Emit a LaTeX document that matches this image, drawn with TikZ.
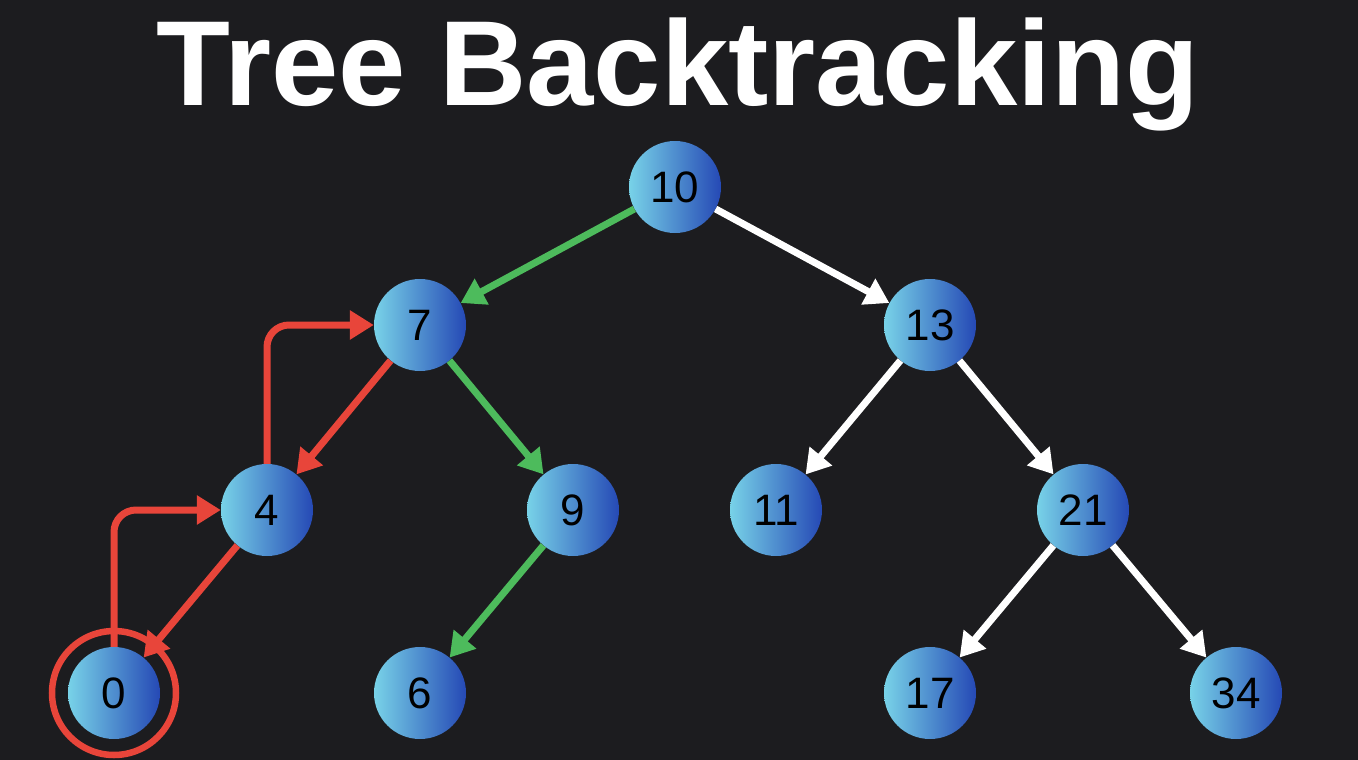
\documentclass[tikz,border=0pt]{standalone}
\usepackage{fontspec}
\setmainfont{Liberation Sans}
\usetikzlibrary{arrows.meta}
\definecolor{bg}{HTML}{1C1C1F}
\definecolor{nleft}{HTML}{78D2E8}
\definecolor{nright}{HTML}{2549B5}
\definecolor{egreen}{HTML}{4DBB5C}
\definecolor{ered}{HTML}{E8453A}
\tikzset{
  tnode/.style={circle, minimum size=92pt, inner sep=0pt, left color=nleft, right color=nright, font=\fontsize{44}{44}\selectfont, text=black},
  edge/.style={line width=7pt, -{Triangle[length=24pt,width=28pt]}},
  gedge/.style={edge, draw=egreen},
  wedge/.style={edge, draw=white},
  redge/.style={edge, draw=ered},
  backedge/.style={redge, rounded corners=22pt},
}
\begin{document}
\begin{tikzpicture}[x=1pt,y=-1pt]
\fill[bg] (0,0) rectangle (1358,760);
\useasboundingbox (0,0) rectangle (1358,760);
\node[anchor=base, text=white, font=\fontsize{121}{121}\selectfont\bfseries] (title) at (678,105) {Tree Backtracking};
\node[tnode] (n10) at (675,187) {10};
\node[tnode] (n7) at (420,325) {7};
\node[tnode] (n13) at (930,325) {13};
\node[tnode] (n4) at (267,510) {4};
\node[tnode] (n9) at (573,510) {9};
\node[tnode] (n11) at (776,510) {11};
\node[tnode] (n21) at (1083,510) {21};
\node[tnode] (n0) at (114,693) {0};
\node[tnode] (n6) at (420,693) {6};
\node[tnode] (n17) at (930,693) {17};
\node[tnode] (n34) at (1236,693) {34};
\node[circle, draw=ered, line width=6.5pt, minimum size=124pt, inner sep=0pt] (ring) at (n0) {};
\draw[gedge] (n10) -- (n7);
\draw[wedge] (n10) -- (n13);
\draw[gedge] (n7) -- (n9);
\draw[gedge] (n9) -- (n6);
\draw[redge] (n7) -- (n4);
\draw[redge] (n4) -- (n0);
\draw[wedge] (n13) -- (n11);
\draw[wedge] (n13) -- (n21);
\draw[wedge] (n21) -- (n17);
\draw[wedge] (n21) -- (n34);
\draw[backedge] (n4.north) |- (n7.west);
\draw[backedge] (n0.north) |- (n4.west);
\end{tikzpicture}
\end{document}
